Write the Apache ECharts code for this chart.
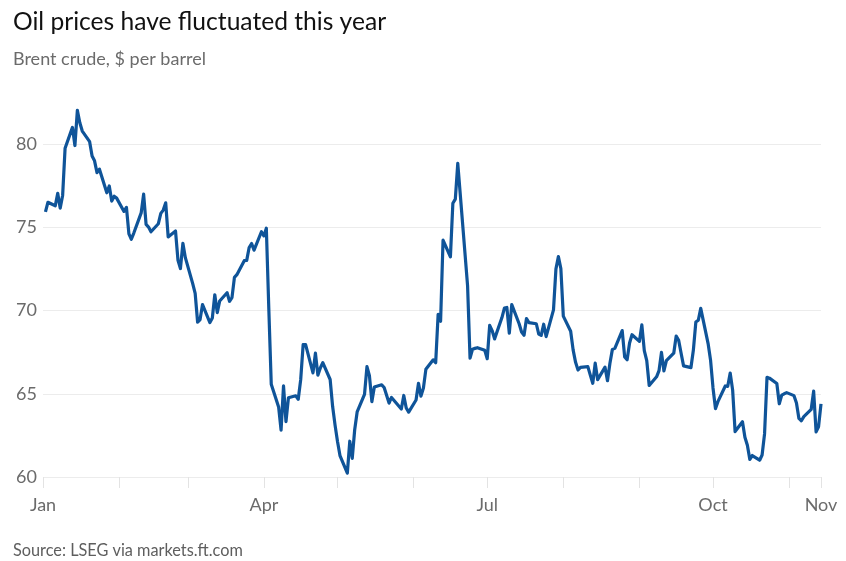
<!DOCTYPE html>
<html>
<head>
<meta charset="utf-8">
<script src="https://cdn.jsdelivr.net/npm/echarts@6/dist/echarts.min.js"></script>
<style>
html,body{margin:0;padding:0;background:#fff;}
#chart{width:846px;height:561px;}
</style>
</head>
<body>
<div id="chart"></div>
<script>
// Brent crude daily closes, $ per barrel
const tradingDays = [
  '2025-01-02','2025-01-03','2025-01-06','2025-01-07','2025-01-08','2025-01-09','2025-01-10','2025-01-13','2025-01-14','2025-01-15','2025-01-16','2025-01-17','2025-01-20','2025-01-21','2025-01-22','2025-01-23','2025-01-24','2025-01-27','2025-01-28','2025-01-29','2025-01-30','2025-01-31',
  '2025-02-03','2025-02-04','2025-02-05','2025-02-06','2025-02-07','2025-02-10','2025-02-11','2025-02-12','2025-02-13','2025-02-14','2025-02-17','2025-02-18','2025-02-19','2025-02-20','2025-02-21','2025-02-24','2025-02-25','2025-02-26','2025-02-27','2025-02-28',
  '2025-03-03','2025-03-04','2025-03-05','2025-03-06','2025-03-07','2025-03-10','2025-03-11','2025-03-12','2025-03-13','2025-03-14','2025-03-17','2025-03-18','2025-03-19','2025-03-20','2025-03-21','2025-03-24','2025-03-25','2025-03-26','2025-03-27','2025-03-28','2025-03-31',
  '2025-04-01','2025-04-02','2025-04-03','2025-04-04','2025-04-07','2025-04-08','2025-04-09','2025-04-10','2025-04-11','2025-04-14','2025-04-15','2025-04-16','2025-04-17','2025-04-18','2025-04-21','2025-04-22','2025-04-23','2025-04-24','2025-04-25','2025-04-28','2025-04-29','2025-04-30',
  '2025-05-01','2025-05-02','2025-05-05','2025-05-06','2025-05-07','2025-05-08','2025-05-09','2025-05-12','2025-05-13','2025-05-14','2025-05-15','2025-05-16','2025-05-19','2025-05-20','2025-05-21','2025-05-22','2025-05-23','2025-05-27','2025-05-28','2025-05-29','2025-05-30',
  '2025-06-02','2025-06-03','2025-06-04','2025-06-05','2025-06-06','2025-06-09','2025-06-10','2025-06-11','2025-06-12','2025-06-13','2025-06-16','2025-06-17','2025-06-18','2025-06-19','2025-06-20','2025-06-23','2025-06-24','2025-06-25','2025-06-26','2025-06-27','2025-06-30',
  '2025-07-01','2025-07-02','2025-07-03','2025-07-04','2025-07-07','2025-07-08','2025-07-09','2025-07-10','2025-07-11','2025-07-14','2025-07-15','2025-07-16','2025-07-17','2025-07-18','2025-07-21','2025-07-22','2025-07-23','2025-07-24','2025-07-25','2025-07-28','2025-07-29','2025-07-30','2025-07-31',
  '2025-08-01','2025-08-04','2025-08-05','2025-08-06','2025-08-07','2025-08-08','2025-08-11','2025-08-12','2025-08-13','2025-08-14','2025-08-15','2025-08-18','2025-08-19','2025-08-20','2025-08-21','2025-08-22','2025-08-25','2025-08-26','2025-08-27','2025-08-28','2025-08-29',
  '2025-09-01','2025-09-02','2025-09-03','2025-09-04','2025-09-05','2025-09-08','2025-09-09','2025-09-10','2025-09-11','2025-09-12','2025-09-15','2025-09-16','2025-09-17','2025-09-18','2025-09-19','2025-09-22','2025-09-23','2025-09-24','2025-09-25','2025-09-26','2025-09-29','2025-09-30',
  '2025-10-01','2025-10-02','2025-10-03','2025-10-06','2025-10-07','2025-10-08','2025-10-09','2025-10-10','2025-10-13','2025-10-14','2025-10-15','2025-10-16','2025-10-17','2025-10-20','2025-10-21','2025-10-22','2025-10-23','2025-10-24','2025-10-27','2025-10-28','2025-10-29','2025-10-30','2025-10-31',
  '2025-11-03','2025-11-04','2025-11-05','2025-11-06','2025-11-07','2025-11-10','2025-11-11','2025-11-12','2025-11-13','2025-11-14'
];
const brentPrices = [
  75.93,76.51,76.30,77.05,76.16,76.92,79.76,81.01,79.92,82.03,81.29,80.79,80.15,79.29,79.00,78.29,78.50,77.08,77.49,76.58,76.87,76.76,
  75.96,76.20,74.61,74.29,74.66,75.87,77.00,75.18,75.02,74.74,75.22,75.84,76.04,76.48,74.43,74.78,73.02,72.53,74.04,73.18,
  71.62,71.04,69.30,69.46,70.36,69.28,69.56,70.95,69.88,70.58,71.07,70.56,70.78,72.00,72.16,73.00,73.02,73.79,74.03,73.63,74.74,
  74.49,74.95,70.14,65.58,64.21,62.82,65.48,63.33,64.76,64.88,64.67,65.85,67.96,67.96,66.26,67.44,66.12,66.55,66.87,65.86,64.25,63.12,
  62.13,61.29,60.23,62.15,61.12,62.84,63.91,64.96,66.63,66.09,64.53,65.41,65.54,65.38,64.91,64.44,64.78,64.09,64.90,64.15,63.90,
  64.63,65.63,64.86,65.34,66.47,67.04,66.87,69.77,69.36,74.23,73.23,76.45,76.70,78.85,77.01,71.48,67.14,67.68,67.73,67.77,67.61,
  67.11,69.11,68.80,68.30,69.58,70.15,70.19,68.64,70.36,69.21,68.71,68.52,69.52,69.28,69.21,68.59,68.51,69.18,68.44,70.04,72.51,73.24,72.53,
  69.67,68.76,67.64,66.89,66.43,66.59,66.63,66.12,65.63,66.84,65.85,66.60,65.79,66.84,67.67,67.73,68.80,67.22,67.05,68.05,68.55,
  68.15,69.14,67.60,66.99,65.50,66.02,66.39,67.49,66.37,66.99,67.44,68.47,68.22,67.44,66.68,66.57,67.63,69.31,69.42,70.13,68.02,67.02,
  65.35,64.11,64.53,65.47,65.45,66.25,65.22,62.73,63.32,62.39,61.91,61.06,61.29,61.01,61.32,62.59,65.99,65.94,65.62,64.40,64.92,65.00,65.07,
  64.89,64.44,63.52,63.38,63.63,64.06,65.16,62.71,63.01,64.39
];

// axis ticks and labels
const xLabelTexts = ['Jan', 'Apr', 'Jul', 'Oct', 'Nov'];
const xLabelDates = ['2025-01-01', '2025-04-01', '2025-07-01', '2025-10-01', '2025-11-14'];
const xTickDates = ['2025-01-01','2025-02-01','2025-03-01','2025-04-01','2025-05-01','2025-06-01','2025-07-01','2025-08-01','2025-09-01','2025-10-01','2025-11-01','2025-11-14'];
const xStart = '2025-01-01';
const xEnd = '2025-11-14';
const yMin = 60, yMax = 85, yStep = 5;

const titleText = 'Oil prices have fluctuated this year';
const subtitleText = 'Brent crude, $ per barrel';
const sourceText = 'Source: LSEG via markets.ft.com';

// day number counted from xStart (the x axis is a linear calendar-day scale)
function dayNum(s) {
  const p = s.split('-');
  const q = xStart.split('-');
  return Math.round((Date.UTC(+p[0], +p[1] - 1, +p[2]) - Date.UTC(+q[0], +q[1] - 1, +q[2])) / 86400000);
}

const labelDays = xLabelDates.map(dayNum);
const tickDays = xTickDates.map(dayNum);
const FONT = 'Lato, "Liberation Sans", sans-serif';

const chart = echarts.init(document.getElementById('chart'), null, {renderer: 'canvas'});
chart.setOption({
  animation: false,
  backgroundColor: '#ffffff',
  title: [
    {text: titleText, left: 8, top: 5,
     textStyle: {fontFamily: FONT, fontSize: 24.6, fontWeight: 'normal', color: '#111111'}},
    {text: subtitleText, left: 8, top: 45,
     textStyle: {fontFamily: FONT, fontSize: 18, fontWeight: 'normal', color: '#6b6b6b'}},
    {text: sourceText, left: 8, top: 538,
     textStyle: {fontFamily: FONT, fontSize: 16.3, fontWeight: 'normal', color: '#5e5e5e'}}
  ],
  grid: {left: 43, right: 25, top: 61, bottom: 84, containLabel: false},
  xAxis: {
    type: 'value',
    min: dayNum(xStart),
    max: dayNum(xEnd),
    axisLine: {show: false},
    splitLine: {show: false},
    axisTick: {
      show: true, length: 11, customValues: tickDays,
      lineStyle: {color: '#e3e3e3', width: 1}
    },
    axisLabel: {
      show: true, customValues: labelDays, margin: 19,
      fontFamily: FONT, fontSize: 18, color: '#6b6b6b',
      hideOverlap: false,
      formatter: function (v) {
        const i = labelDays.indexOf(Math.round(v));
        return i >= 0 ? xLabelTexts[i] : '';
      }
    }
  },
  yAxis: {
    type: 'value',
    min: yMin, max: yMax, interval: yStep,
    axisLine: {show: false},
    axisTick: {show: false},
    axisLabel: {
      margin: 6, fontFamily: FONT, fontSize: 18, color: '#6b6b6b',
      showMaxLabel: false
    },
    splitLine: {show: true, showMaxLine: false, lineStyle: {color: '#ececec', width: 1}}
  },
  series: [{
    type: 'line',
    data: tradingDays.map((d, i) => [dayNum(d), brentPrices[i]]),
    showSymbol: false,
    symbol: 'none',
    smooth: false,
    lineStyle: {color: '#0f5499', width: 3.2, join: 'round'},
    itemStyle: {color: '#0f5499'},
    emphasis: {disabled: true}
  }]
});
</script>
</body>
</html>
